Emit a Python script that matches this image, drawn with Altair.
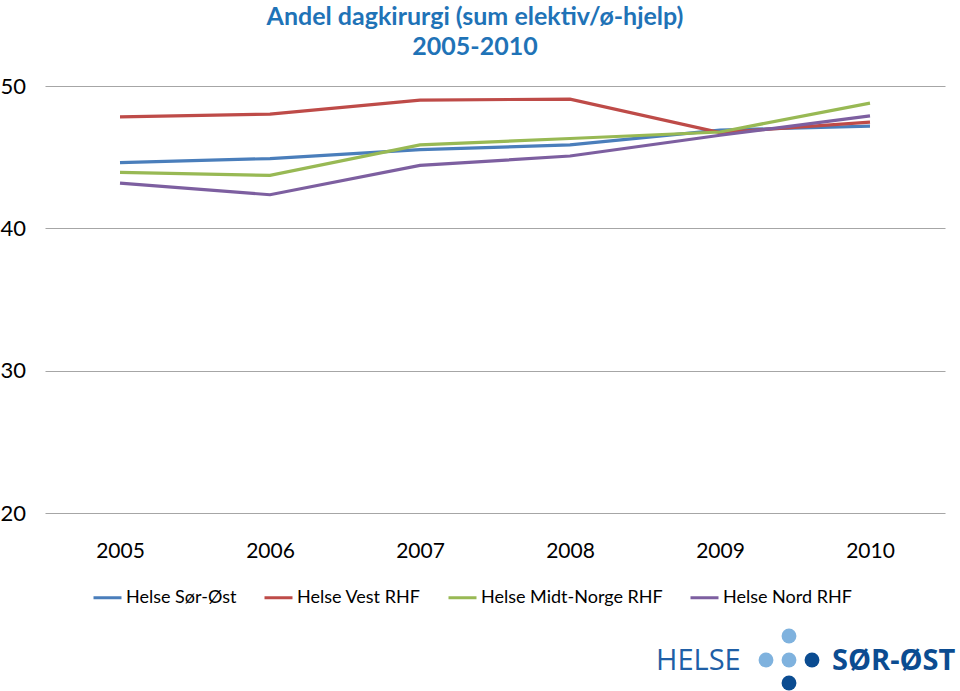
import altair as alt
import pandas as pd

years = ["2005", "2006", "2007", "2008", "2009", "2010"]
series_names = ["Helse Sør-Øst", "Helse Vest RHF", "Helse Midt-Norge RHF", "Helse Nord RHF"]
sor_ost = [44.62, 44.90, 45.53, 45.86, 46.90, 47.18]
vest = [47.83, 48.02, 49.01, 49.08, 46.73, 47.46]
midt_norge = [43.93, 43.72, 45.86, 46.31, 46.77, 48.80]
nord = [43.18, 42.36, 44.42, 45.08, 46.54, 47.90]
colors = ["#4A7EBB", "#BE4B48", "#98B954", "#7D5FA0"]

rows = []
for name, vals in zip(series_names, [sor_ost, vest, midt_norge, nord]):
    for y, v in zip(years, vals):
        rows.append({"year": y, "series": name, "value": v})
df = pd.DataFrame(rows)

FONT = "Lato"

lines = alt.Chart(df).mark_line(strokeWidth=3.2, clip=False).encode(
    x=alt.X("year:O", sort=years,
            scale=alt.Scale(type="point", padding=0.5),
            axis=alt.Axis(title=None, labelAngle=0, domain=False, ticks=False, tickSize=0,
                          labelPadding=27, labelFontSize=21, labelFont=FONT,
                          labelColor="#000000", grid=False)),
    y=alt.Y("value:Q", scale=alt.Scale(domain=[20, 50], nice=False, zero=False),
            axis=alt.Axis(title=None, values=[20, 30, 40, 50], domain=False, ticks=False,
                          tickSize=0, labelAlign="left", labelPadding=45, labelFontSize=22,
                          labelFont=FONT, labelColor="#000000", gridColor="#A6A6A6",
                          gridWidth=1.2)),
    color=alt.Color("series:N", sort=series_names,
                    scale=alt.Scale(domain=series_names, range=colors),
                    legend=alt.Legend(title=None, orient="none", direction="horizontal",
                                      legendX=47, legendY=496, symbolType="stroke",
                                      symbolSize=784, symbolStrokeWidth=3,
                                      labelFontSize=18, labelFont=FONT, labelColor="#000000",
                                      labelOffset=3, columnPadding=21, labelLimit=300)),
)

# logo decoration
logo_text = alt.Chart(pd.DataFrame({"t": ["HELSE"]})).mark_text(
    align="left", baseline="alphabetic", fontSize=29, font="Open Sans", color="#1F5FA6"
).encode(x=alt.value(611), y=alt.value(584), text="t:N")
logo_text2 = alt.Chart(pd.DataFrame({"t": ["SØR-ØST"]})).mark_text(
    align="left", baseline="alphabetic", fontSize=29, font="Open Sans", fontWeight="bold",
    color="#0B4C91"
).encode(x=alt.value(787), y=alt.value(584), text="t:N")

dot_x = [721, 744, 744, 767, 744]
dot_y = [574, 574, 550, 574, 597]
dot_c = ["#7FB2DE", "#7FB2DE", "#7FB2DE", "#0B4C91", "#0B4C91"]
dots_layers = []
for dx, dy, dc in zip(dot_x, dot_y, dot_c):
    dots_layers.append(
        alt.Chart(pd.DataFrame({"a": [1]})).mark_circle(size=220, opacity=1, color=dc).encode(
            x=alt.value(dx), y=alt.value(dy))
    )

chart = alt.layer(lines, logo_text, logo_text2, *dots_layers).properties(
    width=900, height=427,
    padding={"left": 45, "top": 86, "right": 15, "bottom": 178},
    autosize=alt.AutoSizeParams(type="none"),
    title=alt.TitleParams(
        text=["Andel dagkirurgi (sum elektiv/ø-hjelp)", "2005-2010"],
        anchor="middle", fontSize=25, font=FONT, fontWeight="bold", color="#1F73B7",
        offset=15, dx=-20, lineHeight=30,
    ),
).configure_view(stroke=None)

chart.save("out.html", embed_options={"renderer": "svg", "actions": False})
